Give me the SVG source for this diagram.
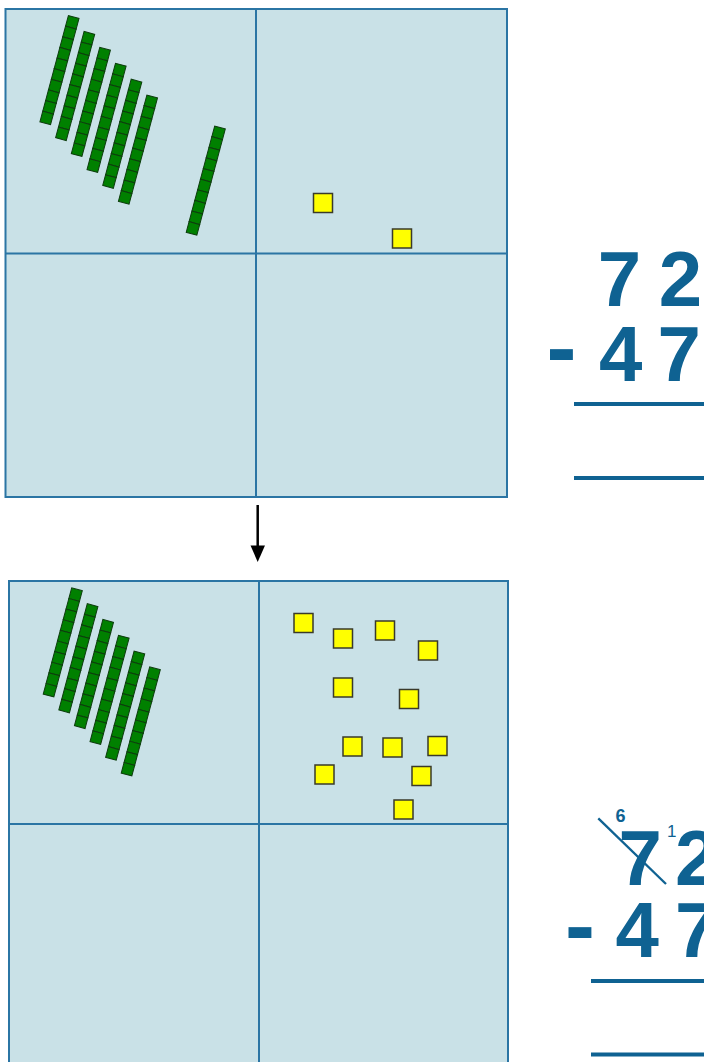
<svg xmlns="http://www.w3.org/2000/svg" xmlns:xlink="http://www.w3.org/1999/xlink" width="704" height="1062" viewBox="0 0 704 1062">
<style>
.panel{fill:#c9e1e7;stroke:#2b75a4;stroke-width:2}
.grid{stroke:#2b75a4;stroke-width:2;fill:none}
.cube{fill:#008000;stroke:#0d3d0d;stroke-width:1}
.unit{fill:#ffff00;stroke:#3a3a2a;stroke-width:1.5}
.num{font-family:"Liberation Sans",Arial,sans-serif;font-weight:bold;font-size:78px;fill:#0f6292}
.minus{font-size:90px}
.small{font-family:"Liberation Sans",Arial,sans-serif;fill:#0f6292}
.rule{stroke:#0f6292;stroke-width:4}
</style>
<defs>
<g id="rod">
<rect class="cube" x="-5.5" y="0" width="11" height="11"/>
<rect class="cube" x="-5.5" y="11" width="11" height="11"/>
<rect class="cube" x="-5.5" y="22" width="11" height="11"/>
<rect class="cube" x="-5.5" y="33" width="11" height="11"/>
<rect class="cube" x="-5.5" y="44" width="11" height="11"/>
<rect class="cube" x="-5.5" y="55" width="11" height="11"/>
<rect class="cube" x="-5.5" y="66" width="11" height="11"/>
<rect class="cube" x="-5.5" y="77" width="11" height="11"/>
<rect class="cube" x="-5.5" y="88" width="11" height="11"/>
<rect class="cube" x="-5.5" y="99" width="11" height="11"/>
</g>
</defs>

<g id="panel-top">
<rect class="panel" x="5.5" y="9" width="501.5" height="488"/>
<line class="grid" x1="256" y1="9" x2="256" y2="497"/>
<line class="grid" x1="5.5" y1="253.5" x2="507" y2="253.5"/>
<use xlink:href="#rod" href="#rod" transform="translate(73.7,17) rotate(15)"/>
<use xlink:href="#rod" href="#rod" transform="translate(89.4,32.9) rotate(15)"/>
<use xlink:href="#rod" href="#rod" transform="translate(105.1,48.8) rotate(15)"/>
<use xlink:href="#rod" href="#rod" transform="translate(120.8,64.7) rotate(15)"/>
<use xlink:href="#rod" href="#rod" transform="translate(136.5,80.6) rotate(15)"/>
<use xlink:href="#rod" href="#rod" transform="translate(152.2,96.5) rotate(15)"/>
<use xlink:href="#rod" href="#rod" transform="translate(220,127.5) rotate(15)"/>
<rect class="unit" x="313.5" y="193.5" width="19" height="19"/>
<rect class="unit" x="392.5" y="229" width="19" height="19"/>
</g>

<g id="connectors">
<line x1="257.7" y1="505" x2="257.7" y2="548" stroke="#000" stroke-width="2.5"/>
<path d="M250.5,545.5 L265,545.5 L257.7,562 Z" fill="#000"/>
</g>

<g id="panel-bottom">
<rect class="panel" x="9" y="581" width="499" height="490"/>
<line class="grid" x1="259" y1="581" x2="259" y2="1070"/>
<line class="grid" x1="9" y1="824" x2="508" y2="824"/>
<use xlink:href="#rod" href="#rod" transform="translate(77,589.3) rotate(15)"/>
<use xlink:href="#rod" href="#rod" transform="translate(92.6,605.1) rotate(15)"/>
<use xlink:href="#rod" href="#rod" transform="translate(108.2,620.9) rotate(15)"/>
<use xlink:href="#rod" href="#rod" transform="translate(123.8,636.7) rotate(15)"/>
<use xlink:href="#rod" href="#rod" transform="translate(139.4,652.5) rotate(15)"/>
<use xlink:href="#rod" href="#rod" transform="translate(155,668.3) rotate(15)"/>
<rect class="unit" x="294" y="613.5" width="19" height="19"/>
<rect class="unit" x="333.5" y="629" width="19" height="19"/>
<rect class="unit" x="375.5" y="621" width="19" height="19"/>
<rect class="unit" x="418.5" y="641" width="19" height="19"/>
<rect class="unit" x="333.5" y="678" width="19" height="19"/>
<rect class="unit" x="399.5" y="689.5" width="19" height="19"/>
<rect class="unit" x="343" y="737" width="19" height="19"/>
<rect class="unit" x="383" y="738" width="19" height="19"/>
<rect class="unit" x="428" y="736.5" width="19" height="19"/>
<rect class="unit" x="315" y="765" width="19" height="19"/>
<rect class="unit" x="412" y="766.5" width="19" height="19"/>
<rect class="unit" x="394" y="800" width="19" height="19"/>
</g>

<g id="sum-top">
<text class="num" x="597.7 640 658.7" y="306">7 2</text>
<text class="num" y="380.5"><tspan class="minus" x="546.5" dy="-2.5">-</tspan> <tspan x="598.9" dy="2.5">4</tspan> <tspan x="657.4">7</tspan></text>
<line class="rule" x1="574" y1="404" x2="704" y2="404"/>
<line class="rule" x1="574" y1="478" x2="704" y2="478"/>
</g>

<g id="sum-bottom">
<text class="num" x="618.4 660 675" y="885">7 2</text>
<line x1="598.3" y1="818.3" x2="666" y2="884" stroke="#0f6292" stroke-width="2.3"/>
<text class="small" x="615.5" y="821.7" font-size="18" font-weight="bold">6</text>
<text class="small" x="667" y="837.3" font-size="17">1</text>
<text class="num" y="957"><tspan class="minus" x="565" dy="-1">-</tspan> <tspan x="615.6" dy="1">4</tspan> <tspan x="675">7</tspan></text>
<line class="rule" x1="591" y1="981" x2="704" y2="981"/>
<line class="rule" x1="591" y1="1054.5" x2="704" y2="1054.5"/>
</g>
</svg>
